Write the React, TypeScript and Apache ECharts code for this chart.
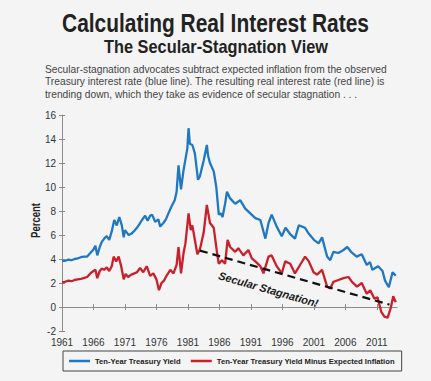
import React, { useEffect, useRef } from "react";
import * as echarts from "echarts";

// ---- Data ----
const blueYears = [
  1961.0, 1961.5, 1962.0, 1962.5, 1963.0, 1963.5, 1964.0, 1964.5, 1965.0, 1965.5,
  1966.0, 1966.3, 1966.6, 1967.0, 1967.3, 1967.7, 1968.1, 1968.5, 1968.9, 1969.3,
  1969.7, 1970.1, 1970.5, 1970.8, 1971.0, 1971.3, 1971.6, 1972.0, 1972.4, 1972.9,
  1973.3, 1973.7, 1974.2, 1974.6, 1975.0, 1975.3, 1975.8, 1976.3, 1976.6, 1977.1,
  1977.5, 1977.9, 1978.4, 1978.9, 1979.2, 1979.5, 1979.9, 1980.3, 1980.6, 1980.9,
  1981.1, 1981.3, 1981.7, 1982.1, 1982.6, 1982.9, 1983.5, 1984.0, 1984.2, 1984.5,
  1985.1, 1985.5, 1985.9, 1986.2, 1986.5, 1986.9, 1987.2, 1987.7, 1988.5, 1989.3,
  1990.1, 1990.9, 1991.7, 1992.5, 1993.3, 1993.8, 1994.3, 1995.1, 1995.9, 1996.5,
  1997.2, 1998.0, 1998.6, 1999.6, 2000.2, 2001.0, 2001.75, 2002.3, 2003.1, 2003.6,
  2004.1, 2004.9, 2005.7, 2006.3, 2006.9, 2007.8, 2008.6, 2009.4, 2009.9, 2010.3,
  2011.2, 2011.9, 2012.3, 2012.9, 2013.5, 2014.0,
];
const blueValues = [
  3.85, 3.85, 3.95, 3.9, 4.0, 4.05, 4.15, 4.2, 4.2, 4.5,
  4.8, 5.1, 4.3, 5.0, 5.4, 5.7, 5.9, 5.6, 6.3, 7.25,
  6.8, 7.5, 6.8, 5.8, 6.4, 6.2, 6.0, 6.1, 6.3, 6.6,
  6.9, 7.25, 7.6, 7.2, 7.6, 7.7, 7.1, 7.3, 6.7, 7.0,
  7.3, 7.8, 8.4, 8.9, 9.6, 11.8, 9.8, 11.4, 12.3, 13.2,
  14.9, 13.6, 13.5, 12.8, 10.6, 10.9, 12.2, 13.5, 12.6, 12.0,
  11.3, 10.0, 7.7, 7.8, 7.5, 8.6, 9.6, 9.05, 8.6, 8.9,
  8.2, 7.8, 7.4, 7.25, 5.7, 7.0, 7.7, 6.7, 5.9, 6.6,
  6.1, 5.7, 6.8, 6.6, 6.1, 5.6, 5.3, 5.8, 4.2, 3.9,
  4.6, 4.5, 4.75, 5.0, 4.6, 4.2, 4.4, 3.5, 3.75, 3.1,
  3.4, 3.0, 2.2, 1.65, 2.9, 2.6,
];

const redYears = [
  1961.0, 1961.5, 1962.0, 1962.5, 1963.0, 1963.5, 1964.0, 1964.4, 1965.0, 1965.5,
  1966.0, 1966.3, 1966.6, 1967.0, 1967.3, 1967.7, 1968.1, 1968.5, 1968.9, 1969.2,
  1969.6, 1970.0, 1970.4, 1970.8, 1971.1, 1971.5, 1972.0, 1972.5, 1972.9, 1973.4,
  1973.9, 1974.45, 1975.0, 1975.5, 1976.0, 1976.4, 1976.8, 1977.2, 1977.6, 1978.2,
  1978.7, 1979.2, 1979.5, 1979.9, 1980.3, 1980.6, 1981.1, 1981.45, 1981.7, 1982.0,
  1982.5, 1982.9, 1983.5, 1984.0, 1984.5, 1985.1, 1985.6, 1985.9, 1986.4, 1986.9,
  1987.3, 1987.7, 1988.5, 1989.0, 1989.8, 1990.6, 1991.15, 1991.7, 1992.5, 1993.0,
  1993.8, 1994.3, 1995.1, 1995.9, 1996.45, 1997.25, 1998.0, 1998.8, 1999.6, 2000.2,
  2000.95, 2001.5, 2002.3, 2003.1, 2003.6, 2004.1, 2004.9, 2005.7, 2006.5, 2007.05,
  2007.85, 2008.6, 2009.4, 2009.95, 2010.6, 2011.1, 2011.7, 2012.2, 2012.7, 2013.2,
  2013.6, 2014.0,
];
const redValues = [
  2.05, 2.1, 2.2, 2.15, 2.25, 2.3, 2.35, 2.4, 2.5, 2.8,
  3.0, 3.1, 2.4, 3.0, 3.2, 3.1, 3.3, 3.0, 3.4, 4.2,
  3.8, 4.2, 3.4, 2.3, 2.75, 2.5, 2.7, 2.8, 2.9, 3.25,
  2.9, 3.4, 2.6, 2.8, 2.3, 1.4, 2.0, 2.2, 2.6, 3.1,
  2.8, 3.5, 5.0, 2.8, 4.5, 5.3, 7.8, 6.4, 6.8, 5.9,
  4.4, 4.8, 6.2, 8.5, 7.0, 6.6, 4.6, 3.6, 3.9, 3.6,
  5.6, 5.0, 4.6, 4.9, 4.3, 4.75, 4.05, 3.8, 3.4, 2.8,
  4.2, 4.3, 3.4, 2.8, 3.8, 3.6, 2.8, 3.5, 4.2, 3.8,
  2.9, 2.7, 3.1, 1.7, 1.55, 2.1, 2.25, 2.4, 2.5, 2.1,
  1.7, 2.0, 1.1, 1.4, 0.7, 0.8, -0.4, -0.8, -0.9, -0.1,
  0.9, 0.4,
];

const xTickYears = [1961, 1966, 1971, 1976, 1981, 1986, 1991, 1996, 2001, 2006, 2011];
const trendStart = [1982.9, 4.7];
const trendEnd = [2013.0, 0.2];

const seriesNames = ["Ten-Year Treasury Yield", "Ten-Year Treasury Yield Minus Expected Inflation"];
const titleText = "Calculating Real Interest Rates";
const subtitleText = "The Secular-Stagnation View";
const descLines = [
  "Secular-stagnation advocates subtract expected inflation from the observed",
  "Treasury interest rate (blue line). The resulting real interest rate (red line) is",
  "trending down, which they take as evidence of secular stagnation . . .",
];
const annotationText = "Secular Stagnation!";

const SANS = '"Liberation Sans", Arial, Helvetica, sans-serif';
const NARROW = '"Liberation Sans Narrow", "Liberation Sans", Arial, sans-serif';

function measure(text: string, font: string): number {
  const c = document.createElement("canvas").getContext("2d");
  if (!c) return text.length * 6;
  c.font = font;
  return c.measureText(text).width;
}

export default function App() {
  const ref = useRef<HTMLDivElement>(null);

  useEffect(() => {
    if (!ref.current) return;
    const chart = echarts.init(ref.current, undefined, { renderer: "svg" });

    const titleScale = 307 / measure(titleText, `bold 25px ${SANS}`);
    const subScale = 224 / measure(subtitleText, `bold 18px ${SANS}`);
    const descScale = 342 / measure(descLines[0], `10.5px ${SANS}`);
    const pctScale = 35 / measure("Percent", `bold 12px ${SANS}`);
    const legendFont = Math.min(10, (9 * 86) / measure(seriesNames[0], `bold 9px ${NARROW}`));

    const blue = blueYears.map((y, i) => [y, blueValues[i]]);
    const red = redYears.map((y, i) => [y, redValues[i]]);

    const axisGray = "#8c8c8c";
    const tickStyle = { lineStyle: { color: axisGray, width: 1 } };
    const blueColor = "#1f78c1";
    const redColor = "#c9202c";

    chart.setOption({
      animation: false,
      backgroundColor: "#f4f4f4",
      grid: { left: 62, right: 34, top: 115, bottom: 50, containLabel: false, outerBoundsMode: "none" },
      xAxis: [
        {
          type: "value",
          min: 1961,
          max: 2014.2,
          splitLine: { show: false },
          axisLine: { show: true, lineStyle: { color: axisGray, width: 1 } },
          axisTick: { show: true, length: 3, customValues: xTickYears, ...tickStyle },
          axisLabel: {
            customValues: xTickYears,
            color: "#333",
            fontSize: 10,
            fontFamily: SANS,
            margin: 6,
            formatter: (v: number) => String(Math.round(v)),
          },
        },
        {
          type: "value",
          min: 1961,
          max: 2014.2,
          position: "bottom",
          splitLine: { show: false },
          axisLine: { show: false },
          axisTick: { show: true, inside: true, length: 3, customValues: xTickYears, ...tickStyle },
          axisLabel: { show: false },
        },
      ],
      yAxis: [
        {
          type: "value",
          min: -2,
          max: 16,
          interval: 2,
          splitLine: { show: false },
          axisLine: { show: true, lineStyle: { color: axisGray, width: 1 } },
          axisTick: { show: true, length: 3, ...tickStyle },
          axisLabel: { color: "#333", fontSize: 10, fontFamily: SANS, margin: 6 },
        },
        {
          type: "value",
          min: -2,
          max: 16,
          interval: 2,
          position: "left",
          offset: 0,
          splitLine: { show: false },
          axisLine: { show: false },
          axisTick: { show: true, inside: true, length: 3, ...tickStyle },
          axisLabel: { show: false },
        },
      ],
      legend: {
        left: 63,
        top: 351,
        orient: "horizontal",
        icon: "rect",
        itemWidth: 21,
        itemHeight: 2.5,
        itemGap: 10,
        padding: [6, 7, 6, 6],
        borderColor: "#444",
        borderWidth: 1,
        textStyle: { fontFamily: NARROW, fontWeight: "bold", fontSize: legendFont, color: "#222" },
        data: [
          { name: seriesNames[0], itemStyle: { color: blueColor } },
          { name: seriesNames[1], itemStyle: { color: redColor } },
        ],
      },
      series: [
        {
          name: seriesNames[0],
          type: "line",
          data: blue,
          symbol: "none",
          lineStyle: { color: blueColor, width: 2.3 },
          itemStyle: { color: blueColor },
          z: 3,
        },
        {
          name: seriesNames[1],
          type: "line",
          data: red,
          symbol: "none",
          lineStyle: { color: redColor, width: 2.3 },
          itemStyle: { color: redColor },
          z: 4,
          markLine: {
            silent: true,
            symbol: ["none", "arrow"],
            symbolSize: [0, 8],
            lineStyle: { color: "#111", type: [8, 5], width: 2.2 },
            label: {
              show: true,
              position: "insideMiddleBottom",
              formatter: annotationText,
              fontFamily: SANS,
              fontStyle: "italic",
              fontWeight: "bold",
              fontSize: 11,
              color: "#1a1a1a",
              padding: [8, 44, 0, 0],
            },
            data: [[{ coord: trendStart }, { coord: trendEnd }]],
          },
        },
      ],
      graphic: [
        {
          type: "text",
          x: 215.5,
          y: 23,
          scaleX: titleScale,
          style: {
            text: titleText,
            font: `bold 25px ${SANS}`,
            fill: "#222",
            align: "center",
            verticalAlign: "middle",
            textAlign: "center",
            textVerticalAlign: "middle",
          },
        },
        {
          type: "text",
          x: 216,
          y: 47,
          scaleX: subScale,
          style: {
            text: subtitleText,
            font: `bold 18px ${SANS}`,
            fill: "#222",
            align: "center",
            verticalAlign: "middle",
            textAlign: "center",
            textVerticalAlign: "middle",
          },
        },
        ...descLines.map((line, i) => ({
          type: "text",
          x: 45,
          y: 69 + i * 12.5,
          scaleX: descScale,
          style: {
            text: line,
            font: `10.5px ${SANS}`,
            fill: "#444",
            align: "left",
            verticalAlign: "middle",
            textAlign: "left",
            textVerticalAlign: "middle",
          },
        })),
        {
          type: "text",
          x: 35.5,
          y: 220.5,
          rotation: Math.PI / 2,
          scaleX: pctScale,
          style: {
            text: "Percent",
            font: `bold 12px ${SANS}`,
            fill: "#222",
            align: "center",
            verticalAlign: "middle",
            textAlign: "center",
            textVerticalAlign: "middle",
          },
        },
      ],
    });

    return () => chart.dispose();
  }, []);

  return (
    <div
      ref={ref}
      style={{ position: "absolute", left: 0, top: 0, width: 431, height: 381 }}
    />
  );
}
